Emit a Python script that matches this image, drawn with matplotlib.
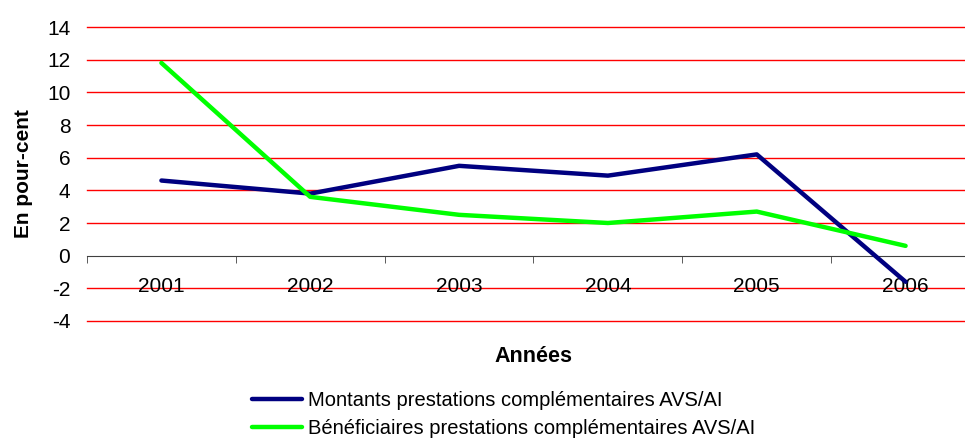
import matplotlib
matplotlib.use('Agg')
import matplotlib.pyplot as plt

plt.rcParams['font.family'] = ['Liberation Sans', 'DejaVu Sans']
plt.rcParams['axes.unicode_minus'] = False

years = ['2001', '2002', '2003', '2004', '2005', '2006']
montants = [4.6, 3.8, 5.5, 4.9, 6.2, -1.6]
beneficiaires = [11.8, 3.6, 2.5, 2.0, 2.7, 0.6]
yticks = list(range(-4, 15, 2))

fig = plt.figure(figsize=(9.65, 4.41), dpi=100)
# axes extends a bit past the right edge, like the original cropped chart
ax = fig.add_axes([87/965, 1 - 321/441, 893/965, 294/441])

x = list(range(len(years)))
ax.plot(x, montants, color='#000080', lw=3.2, solid_capstyle='round',
        label='Montants prestations complémentaires AVS/AI', zorder=3)
ax.plot(x, beneficiaires, color='#00FF00', lw=3.2, solid_capstyle='round',
        label='Bénéficiaires prestations complémentaires AVS/AI', zorder=3)

ax.set_xlim(-0.5, len(years) - 0.5)
ax.set_ylim(-4, 14)
ax.set_yticks(yticks)
for v in yticks:
    if v != 0:
        ax.axhline(v, color='#FF0000', lw=1, clip_on=False, zorder=1)

for s in ['top', 'right', 'left']:
    ax.spines[s].set_visible(False)
ax.spines['bottom'].set_position(('data', 0))
ax.spines['bottom'].set_color('#404040')
ax.spines['bottom'].set_zorder(2)

ax.set_xticks(x)
ax.set_xticklabels(years)
ax.set_xticks([i - 0.5 for i in range(len(years) + 1)], minor=True)
ax.tick_params(axis='x', which='major', length=0, pad=15, labelsize=15)
ax.tick_params(axis='x', which='minor', length=5, color='#404040', direction='out')
ax.tick_params(axis='y', length=0, pad=12, labelsize=15)

ax.set_ylabel('En pour-cent', fontsize=15, fontweight='bold', labelpad=10)
fig.text(533/965, 1 - 357/441, 'Années', ha='center', va='center',
         fontsize=15.5, fontweight='bold')

fig.legend(loc='upper left', bbox_to_anchor=(252/965, 1 - 391/441),
           frameon=False, fontsize=14.5, handlelength=2.5, handletextpad=0.3,
           labelspacing=0.45, borderaxespad=0, borderpad=0)

fig.savefig('out.png', dpi=100)
